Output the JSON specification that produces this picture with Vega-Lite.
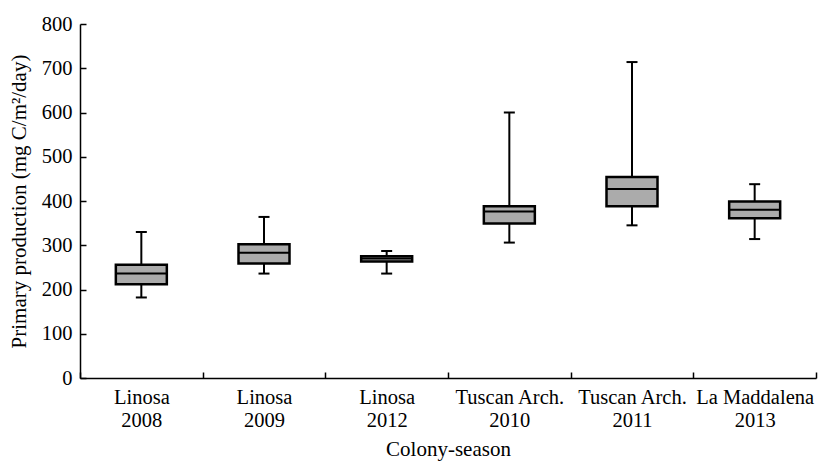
{
  "$schema": "https://vega.github.io/schema/vega-lite/v6.json",
  "autosize": "none",
  "width": 736,
  "height": 354,
  "padding": {"left": 80, "top": 24, "right": 12, "bottom": 84},
  "background": "white",
  "config": {
    "view": {"stroke": null},
    "font": "Liberation Serif",
    "axis": {
      "labelFont": "Liberation Serif",
      "titleFont": "Liberation Serif",
      "labelColor": "black",
      "titleColor": "black",
      "domainColor": "black",
      "tickColor": "black",
      "domainWidth": 1.5,
      "tickWidth": 1.5,
      "titleFontWeight": "normal",
      "grid": false,
      "labelOverlap": false
    }
  },
  "data": {
    "values": [
      {"group": "Linosa|2008", "lower": 182, "q1": 212, "median": 236, "q3": 256, "upper": 330},
      {"group": "Linosa|2009", "lower": 236, "q1": 259, "median": 283, "q3": 302, "upper": 364},
      {"group": "Linosa|2012", "lower": 236, "q1": 263, "median": 270, "q3": 275, "upper": 287},
      {"group": "Tuscan Arch.|2010", "lower": 306, "q1": 349, "median": 376, "q3": 388, "upper": 600},
      {"group": "Tuscan Arch.|2011", "lower": 345, "q1": 388, "median": 427, "q3": 454, "upper": 714},
      {"group": "La Maddalena|2013", "lower": 314, "q1": 361, "median": 380, "q3": 399, "upper": 438}
    ]
  },
  "encoding": {
    "x": {
      "field": "group",
      "type": "nominal",
      "sort": null,
      "scale": {"paddingInner": 0, "paddingOuter": 0},
      "axis": {
        "title": "Colony-season",
        "titleFontSize": 21,
        "titlePadding": 8,
        "labelFontSize": 20.5,
        "labelAngle": 0,
        "labelLineHeight": 23,
        "labelPadding": 15,
        "labelExpr": "split(datum.label, '|')",
        "tickBand": "extent",
        "tickSize": -6
      }
    }
  },
  "layer": [
    {
      "mark": {"type": "rule", "color": "black", "strokeWidth": 2},
      "encoding": {
        "y": {
          "field": "lower",
          "type": "quantitative",
          "scale": {"domain": [0, 800]},
          "axis": {
            "title": "Primary production (mg C/m²/day)",
            "titleFontSize": 21,
            "titlePadding": 12,
            "labelFontSize": 20.5,
            "labelPadding": 14,
            "values": [0, 100, 200, 300, 400, 500, 600, 700, 800],
            "tickSize": -6
          }
        },
        "y2": {"field": "upper"}
      }
    },
    {
      "mark": {"type": "bar", "size": 51, "fill": "#ababab", "stroke": "black", "strokeWidth": 2.5, "opacity": 1},
      "encoding": {
        "y": {"field": "q1", "type": "quantitative"},
        "y2": {"field": "q3"}
      }
    },
    {
      "mark": {"type": "tick", "color": "black", "size": 51, "thickness": 2, "opacity": 1},
      "encoding": {"y": {"field": "median", "type": "quantitative"}}
    },
    {
      "mark": {"type": "tick", "color": "black", "size": 11, "thickness": 2, "opacity": 1},
      "encoding": {"y": {"field": "lower", "type": "quantitative"}}
    },
    {
      "mark": {"type": "tick", "color": "black", "size": 11, "thickness": 2, "opacity": 1},
      "encoding": {"y": {"field": "upper", "type": "quantitative"}}
    }
  ]
}
